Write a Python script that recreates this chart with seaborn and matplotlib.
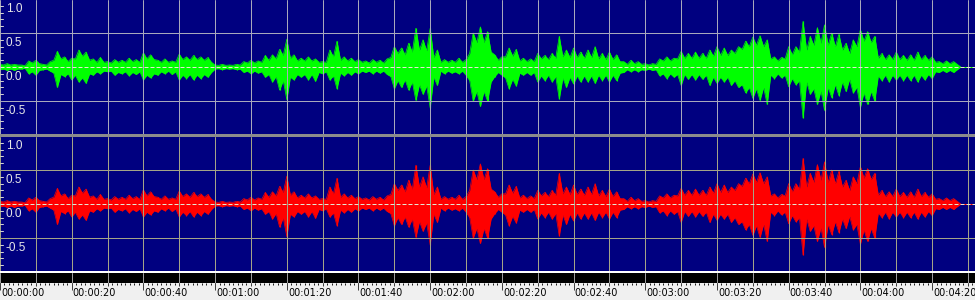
import matplotlib
matplotlib.use("Agg")
import matplotlib.pyplot as plt
import seaborn as sns
import pandas as pd

# ---------------- data ----------------
# peak amplitudes, sampled every 2 s (even seconds)
peak_time_s = list(range(0, 270, 2))
left_peak_upper = [0.04, 0.05, 0.04, 0.03, 0.09, 0.10, 0.04, 0.08, 0.23, 0.15,
                   0.13, 0.25, 0.22, 0.12, 0.14, 0.08, 0.11, 0.10, 0.13, 0.11,
                   0.21, 0.18, 0.10, 0.12, 0.09, 0.19, 0.15, 0.17, 0.15, 0.14,
                   0.03, 0.04, 0.03, 0.04, 0.08, 0.10, 0.09, 0.17, 0.18, 0.26,
                   0.41, 0.18, 0.13, 0.15, 0.12, 0.08, 0.25, 0.38, 0.15, 0.13,
                   0.11, 0.09, 0.11, 0.10, 0.12, 0.30, 0.28, 0.35, 0.57, 0.40,
                   0.57, 0.25, 0.11, 0.10, 0.13, 0.11, 0.50, 0.59, 0.52, 0.18,
                   0.15, 0.28, 0.26, 0.13, 0.12, 0.20, 0.17, 0.20, 0.45, 0.25,
                   0.28, 0.22, 0.25, 0.30, 0.20, 0.22, 0.18, 0.08, 0.10, 0.08,
                   0.05, 0.05, 0.12, 0.15, 0.13, 0.23, 0.20, 0.22, 0.20, 0.25,
                   0.30, 0.28, 0.25, 0.30, 0.38, 0.44, 0.46, 0.40, 0.15, 0.14,
                   0.30, 0.30, 0.67, 0.45, 0.58, 0.62, 0.50, 0.48, 0.35, 0.40,
                   0.55, 0.52, 0.45, 0.20, 0.18, 0.22, 0.17, 0.18, 0.22, 0.17,
                   0.15, 0.08, 0.09, 0.08, 0.00]
left_peak_lower = [-0.04, -0.05, -0.05, -0.03, -0.10, -0.12, -0.04, -0.06, -0.30, -0.14,
                   -0.19, -0.22, -0.24, -0.12, -0.10, -0.07, -0.12, -0.10, -0.13, -0.11,
                   -0.19, -0.16, -0.12, -0.10, -0.11, -0.19, -0.17, -0.19, -0.17, -0.15,
                   -0.03, -0.04, -0.03, -0.04, -0.08, -0.10, -0.09, -0.15, -0.22, -0.34,
                   -0.48, -0.19, -0.15, -0.19, -0.21, -0.10, -0.19, -0.32, -0.13, -0.12,
                   -0.10, -0.08, -0.10, -0.09, -0.11, -0.32, -0.30, -0.34, -0.49, -0.40,
                   -0.60, -0.27, -0.10, -0.09, -0.10, -0.12, -0.50, -0.58, -0.50, -0.14,
                   -0.12, -0.32, -0.28, -0.12, -0.12, -0.22, -0.20, -0.22, -0.47, -0.30,
                   -0.25, -0.22, -0.22, -0.24, -0.20, -0.22, -0.20, -0.08, -0.07, -0.07,
                   -0.05, -0.05, -0.13, -0.17, -0.15, -0.27, -0.18, -0.19, -0.18, -0.27,
                   -0.24, -0.22, -0.27, -0.30, -0.38, -0.46, -0.49, -0.55, -0.17, -0.16,
                   -0.29, -0.26, -0.75, -0.40, -0.55, -0.64, -0.45, -0.42, -0.36, -0.38,
                   -0.59, -0.55, -0.50, -0.20, -0.22, -0.19, -0.20, -0.20, -0.22, -0.19,
                   -0.17, -0.08, -0.08, -0.08, 0.00]

# solid body of the waveform, sampled in between (odd seconds)
core_time_s = list(range(1, 269, 2))
left_core_upper = [0.03, 0.03, 0.03, 0.02, 0.06, 0.05, 0.03, 0.10, 0.12, 0.08,
                   0.12, 0.16, 0.10, 0.07, 0.07, 0.06, 0.07, 0.07, 0.08, 0.07,
                   0.12, 0.11, 0.07, 0.07, 0.07, 0.11, 0.10, 0.11, 0.10, 0.07,
                   0.025, 0.025, 0.025, 0.03, 0.06, 0.06, 0.07, 0.10, 0.12, 0.17,
                   0.13, 0.09, 0.09, 0.09, 0.07, 0.07, 0.15, 0.10, 0.09, 0.08,
                   0.07, 0.06, 0.07, 0.06, 0.14, 0.20, 0.18, 0.22, 0.25, 0.24,
                   0.14, 0.07, 0.07, 0.07, 0.07, 0.20, 0.36, 0.36, 0.22, 0.10,
                   0.15, 0.16, 0.09, 0.08, 0.08, 0.12, 0.11, 0.13, 0.15, 0.14,
                   0.14, 0.13, 0.14, 0.12, 0.11, 0.11, 0.08, 0.04, 0.05, 0.04,
                   0.03, 0.04, 0.09, 0.09, 0.12, 0.13, 0.13, 0.13, 0.13, 0.16,
                   0.17, 0.17, 0.20, 0.26, 0.30, 0.32, 0.30, 0.12, 0.09, 0.12,
                   0.18, 0.22, 0.25, 0.32, 0.35, 0.32, 0.30, 0.25, 0.20, 0.30,
                   0.38, 0.36, 0.13, 0.11, 0.11, 0.11, 0.10, 0.10, 0.11, 0.10,
                   0.07, 0.05, 0.05, 0.04]
left_core_lower = [-0.03, -0.03, -0.03, -0.02, -0.07, -0.05, -0.03, -0.09, -0.11, -0.10,
                   -0.12, -0.16, -0.10, -0.07, -0.06, -0.06, -0.08, -0.07, -0.08, -0.07,
                   -0.12, -0.10, -0.07, -0.06, -0.07, -0.12, -0.11, -0.12, -0.11, -0.08,
                   -0.025, -0.025, -0.025, -0.03, -0.06, -0.06, -0.07, -0.11, -0.14, -0.20,
                   -0.15, -0.11, -0.11, -0.11, -0.08, -0.07, -0.13, -0.09, -0.08, -0.07,
                   -0.06, -0.06, -0.06, -0.06, -0.14, -0.20, -0.19, -0.22, -0.26, -0.28,
                   -0.15, -0.06, -0.06, -0.07, -0.06, -0.20, -0.36, -0.36, -0.22, -0.08,
                   -0.16, -0.18, -0.09, -0.08, -0.08, -0.13, -0.12, -0.14, -0.16, -0.15,
                   -0.13, -0.13, -0.13, -0.12, -0.12, -0.12, -0.09, -0.04, -0.04, -0.04,
                   -0.03, -0.04, -0.10, -0.10, -0.11, -0.11, -0.11, -0.11, -0.12, -0.15,
                   -0.15, -0.15, -0.20, -0.26, -0.30, -0.32, -0.30, -0.12, -0.10, -0.12,
                   -0.17, -0.20, -0.22, -0.32, -0.35, -0.30, -0.26, -0.22, -0.18, -0.30,
                   -0.38, -0.36, -0.13, -0.12, -0.12, -0.12, -0.12, -0.12, -0.12, -0.11,
                   -0.07, -0.05, -0.05, -0.04]

# the two stereo channels are practically identical in the picture
right_peak_upper = list(left_peak_upper)
right_peak_lower = list(left_peak_lower)
right_core_upper = list(left_core_upper)
right_core_lower = list(left_core_lower)

y_tick_values = [1.0, 0.5, 0.0, -0.5]
y_tick_labels = ["1.0", "0.5", "0.0", "-0.5"]
time_ticks = list(range(0, 280, 20))
time_labels = ["00:00:00", "00:00:20", "00:00:40", "00:01:00", "00:01:20",
               "00:01:40", "00:02:00", "00:02:20", "00:02:40", "00:03:00",
               "00:03:20", "00:03:40", "00:04:00", "00:04:20"]
grid_times = list(range(0, 280, 10))

# ---------------- style ----------------
sns.set_theme(style="dark")
plt.rcParams["font.family"] = ["DejaVu Sans"]
plt.rcParams["lines.scale_dashes"] = False

W, H = 975, 300
PX = 72.0 / 100.0  # one pixel in points
T_MAX = 975 / 3.585

fig = plt.figure(figsize=(W / 100, H / 100), dpi=100, facecolor="#8c8c8c")


def rect(x0, y0, w, h):
    return [x0 / W, 1 - (y0 + h) / H, w / W, h / H]


def channel(ax, pu, pl, cu, cl, color, grid_color, half):
    ax.set_facecolor("#000080")
    df = pd.concat([
        pd.DataFrame({"t": peak_time_s, "upper": pu, "lower": pl}),
        pd.DataFrame({"t": core_time_s, "upper": cu, "lower": cl}),
    ]).sort_values("t").reset_index(drop=True)
    ax.fill_between(df["t"], df["lower"], df["upper"], color=color, lw=0, zorder=2)
    sns.lineplot(data=df, x="t", y="upper", ax=ax, color=color, lw=0.5, zorder=2)
    sns.lineplot(data=df, x="t", y="lower", ax=ax, color=color, lw=0.5, zorder=2)
    ax.vlines(peak_time_s, pl, pu, color=color, lw=1.2 * PX, zorder=2)
    ax.plot([peak_time_s[-1], T_MAX], [0, 0], color=color, lw=PX, zorder=2)
    for g in grid_times:
        ax.axvline(g, color=grid_color, lw=PX, zorder=3)
    for v in (1.0, 0.5, -0.5, -1.0):
        ax.axhline(v, color=grid_color, lw=PX, zorder=3)
    ax.axhline(0, color="#e6e6d2", lw=PX, dashes=(4 * PX, 2 * PX), zorder=4)
    ytr = ax.get_yaxis_transform()
    for k in range(-9, 10):
        v = k / 10
        if k % 5 != 0:
            ax.plot([0, 3 / W], [v, v], color="#d0d0d0", lw=PX, transform=ytr, zorder=4)
    for v, lab in zip(y_tick_values, y_tick_labels):
        ax.text(6 / W, v - 4 / 68, lab, transform=ytr, ha="left", va="top",
                color="#e8e8e8", fontsize=8.5, family=["Liberation Sans", "DejaVu Sans"],
                zorder=5)
    ax.set_xlim(0, T_MAX)
    ax.set_ylim(-half, half)
    ax.set_xticks([])
    ax.set_yticks([])
    ax.set_xlabel("")
    ax.set_ylabel("")
    for s in ax.spines.values():
        s.set_visible(False)


ax_top = fig.add_axes(rect(0, 0, 975, 134))
channel(ax_top, left_peak_upper, left_peak_lower, left_core_upper, left_core_lower,
        "#00ff00", "#a8a8bc", 67 / 68)

ax_bot = fig.add_axes(rect(0, 137, 975, 134))
channel(ax_bot, right_peak_upper, right_peak_lower, right_core_upper, right_core_lower,
        "#ff0000", "#a4a488", 67 / 68)

# white line + black ruler band
ax_line = fig.add_axes(rect(0, 271, 975, 1.5))
ax_line.set_facecolor("#ffffff")
ax_line.set_xticks([]); ax_line.set_yticks([])
for s in ax_line.spines.values():
    s.set_visible(False)

ax_black = fig.add_axes(rect(0, 272.5, 975, 10.5))
ax_black.set_facecolor("#000000")
ax_black.set_xlim(0, T_MAX)
ax_black.set_ylim(0, 1)
for g in grid_times:
    ax_black.axvline(g, color="#a0a0a0", lw=PX)
ax_black.set_xticks([]); ax_black.set_yticks([])
for s in ax_black.spines.values():
    s.set_visible(False)

# label band
ax_lab = fig.add_axes(rect(0, 283, 975, 17))
ax_lab.set_facecolor("#f0f0f0")
ax_lab.set_xlim(0, T_MAX)
ax_lab.set_ylim(17, 0)
minor = [k * 1.25 for k in range(0, 220)]
ax_lab.vlines(minor, 0, 1.5, color="#202020", lw=PX)
ax_lab.vlines(grid_times, 0, 2.5, color="#404040", lw=PX)
ax_lab.vlines(time_ticks, 0, 6.5, color="#404040", lw=PX)
for t, lab in zip(time_ticks, time_labels):
    ax_lab.text(t + 0.3, 13.2, lab, ha="left", va="baseline", fontsize=7,
                color="#000000", family="DejaVu Sans")
ax_lab.set_xticks([]); ax_lab.set_yticks([])
for s in ax_lab.spines.values():
    s.set_visible(False)

fig.savefig("out.png", dpi=100, facecolor=fig.get_facecolor())
